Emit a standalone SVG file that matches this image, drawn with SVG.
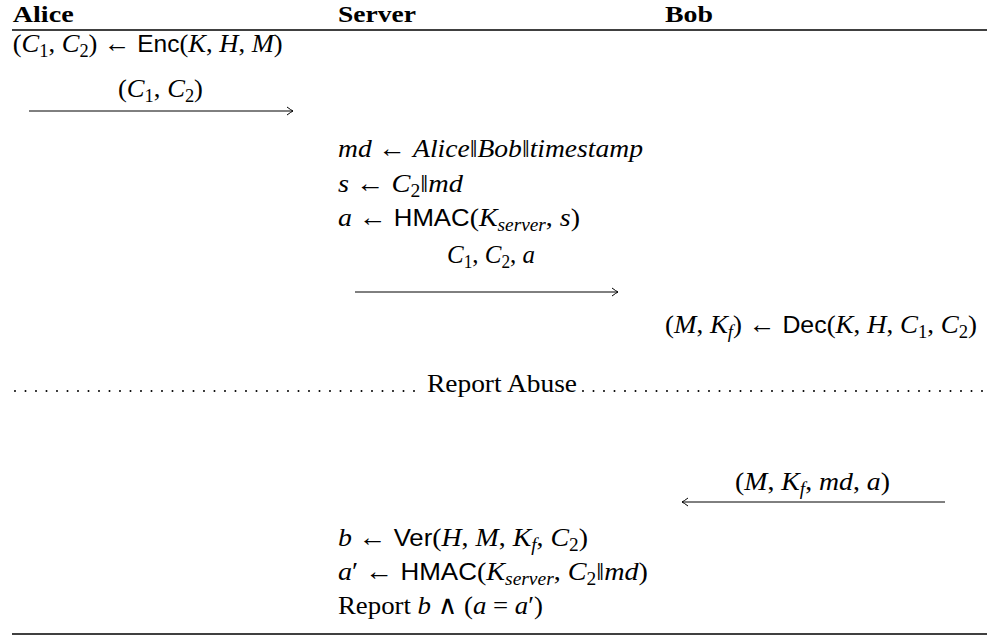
<svg xmlns="http://www.w3.org/2000/svg" width="987" height="635" viewBox="0 0 987 635">
<style>
.t{font-family:"Liberation Serif","DejaVu Serif",serif;font-size:26px;fill:#000}
.h{font-weight:bold;font-size:23px}
.i{font-style:italic}
.sf{font-family:"Liberation Sans","DejaVu Sans",sans-serif;font-size:24px}
.sub{font-size:18px}
.rule{stroke:#000;stroke-width:1.3}
.conn line{stroke:#000;stroke-width:1;fill:none}
.dots{stroke:#000;stroke-width:2;stroke-linecap:round;stroke-dasharray:0 10.5}
</style>
<defs>
<marker id="ah" viewBox="-8 -5 10 10" refX="0" refY="0" markerWidth="10" markerHeight="10" markerUnits="userSpaceOnUse" orient="auto">
<path d="M-6,-4 Q-2,-1 0,0 Q-2,1 -6,4" fill="none" stroke="#000" stroke-width="1"/>
</marker>
</defs>
<rect width="987" height="635" fill="#fff"/>
<g id="header">
<text class="t h" x="12.7" y="22" textLength="61" lengthAdjust="spacingAndGlyphs">Alice</text>
<text class="t h" x="338" y="22" textLength="78" lengthAdjust="spacingAndGlyphs">Server</text>
<text class="t h" x="665" y="22" textLength="48" lengthAdjust="spacingAndGlyphs">Bob</text>
<line class="rule" x1="12" y1="30" x2="987" y2="30"/>
</g>
<g id="alice-enc">
<text class="t" x="12.7" y="52" textLength="270" lengthAdjust="spacingAndGlyphs">(<tspan class="i">C</tspan><tspan class="sub" dy="5">1</tspan><tspan dy="-5">, </tspan><tspan class="i">C</tspan><tspan class="sub" dy="5">2</tspan><tspan dy="-5">) ← </tspan><tspan class="sf">Enc</tspan>(<tspan class="i">K</tspan>, <tspan class="i">H</tspan>, <tspan class="i">M</tspan>)</text>
</g>
<g id="msg1-label">
<text class="t" x="160.5" y="97" text-anchor="middle" textLength="85" lengthAdjust="spacingAndGlyphs">(<tspan class="i">C</tspan><tspan class="sub" dy="5">1</tspan><tspan dy="-5">, </tspan><tspan class="i">C</tspan><tspan class="sub" dy="5">2</tspan><tspan dy="-5">)</tspan></text>
</g>
<g id="server-md">
<text class="t" x="338" y="157" textLength="305" lengthAdjust="spacingAndGlyphs"><tspan class="i">md</tspan> ← <tspan class="i">Alice</tspan>‖<tspan class="i">Bob</tspan>‖<tspan class="i">timestamp</tspan></text>
</g>
<g id="server-s">
<text class="t" x="338" y="192" textLength="125" lengthAdjust="spacingAndGlyphs"><tspan class="i">s</tspan> ← <tspan class="i">C</tspan><tspan class="sub" dy="5">2</tspan><tspan dy="-5">‖</tspan><tspan class="i">md</tspan></text>
</g>
<g id="server-a">
<text class="t" x="338" y="226" textLength="242" lengthAdjust="spacingAndGlyphs"><tspan class="i">a</tspan> ← <tspan class="sf">HMAC</tspan>(<tspan class="i">K</tspan><tspan class="sub i" dy="5">server</tspan><tspan dy="-5">, </tspan><tspan class="i">s</tspan>)</text>
</g>
<g id="msg2-label">
<text class="t" x="491" y="263" text-anchor="middle" textLength="88" lengthAdjust="spacingAndGlyphs"><tspan class="i">C</tspan><tspan class="sub" dy="5">1</tspan><tspan dy="-5">, </tspan><tspan class="i">C</tspan><tspan class="sub" dy="5">2</tspan><tspan dy="-5">, </tspan><tspan class="i">a</tspan></text>
</g>
<g id="bob-dec">
<text class="t" x="977" y="333" text-anchor="end" textLength="312" lengthAdjust="spacingAndGlyphs">(<tspan class="i">M</tspan>, <tspan class="i">K</tspan><tspan class="sub i" dy="5">f</tspan><tspan dy="-5">) ← </tspan><tspan class="sf">Dec</tspan>(<tspan class="i">K</tspan>, <tspan class="i">H</tspan>, <tspan class="i">C</tspan><tspan class="sub" dy="5">1</tspan><tspan dy="-5">, </tspan><tspan class="i">C</tspan><tspan class="sub" dy="5">2</tspan><tspan dy="-5">)</tspan></text>
</g>
<g id="report-abuse">
<line class="dots" x1="15" y1="391" x2="418" y2="391"/>
<text class="t" x="502" y="392" text-anchor="middle" textLength="150" lengthAdjust="spacingAndGlyphs">Report Abuse</text>
<line class="dots" x1="583" y1="391" x2="985" y2="391"/>
</g>
<g id="msg3-label">
<text class="t" x="812.5" y="490" text-anchor="middle" textLength="155" lengthAdjust="spacingAndGlyphs">(<tspan class="i">M</tspan>, <tspan class="i">K</tspan><tspan class="sub i" dy="5">f</tspan><tspan dy="-5">, </tspan><tspan class="i">md</tspan>, <tspan class="i">a</tspan>)</text>
</g>
<g id="server-ver">
<text class="t" x="338" y="546" textLength="250" lengthAdjust="spacingAndGlyphs"><tspan class="i">b</tspan> ← <tspan class="sf">Ver</tspan>(<tspan class="i">H</tspan>, <tspan class="i">M</tspan>, <tspan class="i">K</tspan><tspan class="sub i" dy="5">f</tspan><tspan dy="-5">, </tspan><tspan class="i">C</tspan><tspan class="sub" dy="5">2</tspan><tspan dy="-5">)</tspan></text>
</g>
<g id="server-a2">
<text class="t" x="338" y="580" textLength="310" lengthAdjust="spacingAndGlyphs"><tspan class="i">a</tspan>′ ← <tspan class="sf">HMAC</tspan>(<tspan class="i">K</tspan><tspan class="sub i" dy="5">server</tspan><tspan dy="-5">, </tspan><tspan class="i">C</tspan><tspan class="sub" dy="5">2</tspan><tspan dy="-5">‖</tspan><tspan class="i">md</tspan>)</text>
</g>
<g id="server-report">
<text class="t" x="338" y="614" textLength="205" lengthAdjust="spacingAndGlyphs">Report <tspan class="i">b</tspan> ∧ (<tspan class="i">a</tspan> = <tspan class="i">a</tspan>′)</text>
<line class="rule" x1="12" y1="634" x2="987" y2="634"/>
</g>
<g id="connectors" class="conn">
<line x1="29" y1="111" x2="293" y2="111" marker-end="url(#ah)"/>
<line x1="355" y1="292" x2="618" y2="292" marker-end="url(#ah)"/>
<line x1="945" y1="502" x2="682" y2="502" marker-end="url(#ah)"/>
</g>
</svg>
